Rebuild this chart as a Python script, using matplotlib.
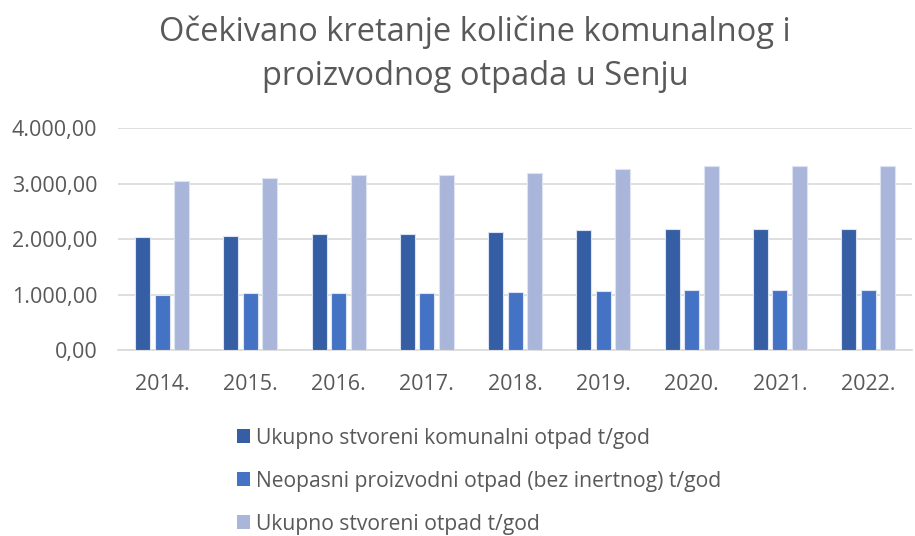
import matplotlib
matplotlib.use("Agg")
import matplotlib.pyplot as plt
import numpy as np
from matplotlib.patches import Patch

plt.rcParams['font.family'] = ['Open Sans', 'DejaVu Sans']

years = ["2014.", "2015.", "2016.", "2017.", "2018.", "2019.", "2020.", "2021.", "2022."]
komunalni = [2040, 2060, 2100, 2100, 2130, 2170, 2190, 2190, 2190]
neopasni = [1000, 1020, 1020, 1020, 1045, 1070, 1090, 1090, 1090]
ukupno = [3050, 3100, 3150, 3150, 3190, 3255, 3310, 3310, 3310]
labels = ["Ukupno stvoreni komunalni otpad t/god",
          "Neopasni proizvodni otpad (bez inertnog) t/god",
          "Ukupno stvoreni otpad t/god"]
colors = ["#365EA5", "#4472C4", "#A9B6DA"]
yticks = [0, 1000, 2000, 3000, 4000]
ytick_labels = ["0,00", "1.000,00", "2.000,00", "3.000,00", "4.000,00"]

txt = "#595959"
fig = plt.figure(figsize=(9.15, 5.36), dpi=100)
ax = fig.add_axes([0.129, 0.347, 0.868, 0.414])

x = np.arange(len(years))
w = 0.17
off = 0.22
for i, (vals, c) in enumerate(zip([komunalni, neopasni, ukupno], colors)):
    ax.bar(x + (i - 1) * off, vals, w, color=c, edgecolor="#DCE3F2", linewidth=0.8, zorder=3)

ax.set_xlim(-0.5, len(years) - 0.5)
ax.set_ylim(0, 4000)
ax.set_yticks(yticks)
ax.set_yticklabels(ytick_labels)
ax.set_xticks(x)
ax.set_xticklabels(years)
ax.grid(axis='y', color="#D9D9D9", linewidth=1.2, zorder=0)
for s in ['top', 'right', 'left']:
    ax.spines[s].set_visible(False)
ax.spines['bottom'].set_color("#D9D9D9")
ax.spines['bottom'].set_linewidth(1.2)
ax.tick_params(axis='both', length=0, labelsize=15.5, colors=txt)
ax.tick_params(axis='x', pad=17)
ax.tick_params(axis='y', pad=15)

fig.text(0.519, 0.899, "Očekivano kretanje količine komunalnog i\nproizvodnog otpada u Senju",
         ha='center', va='center', fontsize=23.5, color=txt, linespacing=1.45)

handles = [Patch(facecolor=c, edgecolor='none') for c in colors]
fig.legend(handles, labels, loc='upper left', bbox_to_anchor=(0.250, 0.218),
           frameon=False, fontsize=15.2, labelcolor=txt, labelspacing=1.04,
           handlelength=0.6, handleheight=0.6, handletextpad=0.3, borderaxespad=0)

fig.savefig("out.png", dpi=100, facecolor="white")
